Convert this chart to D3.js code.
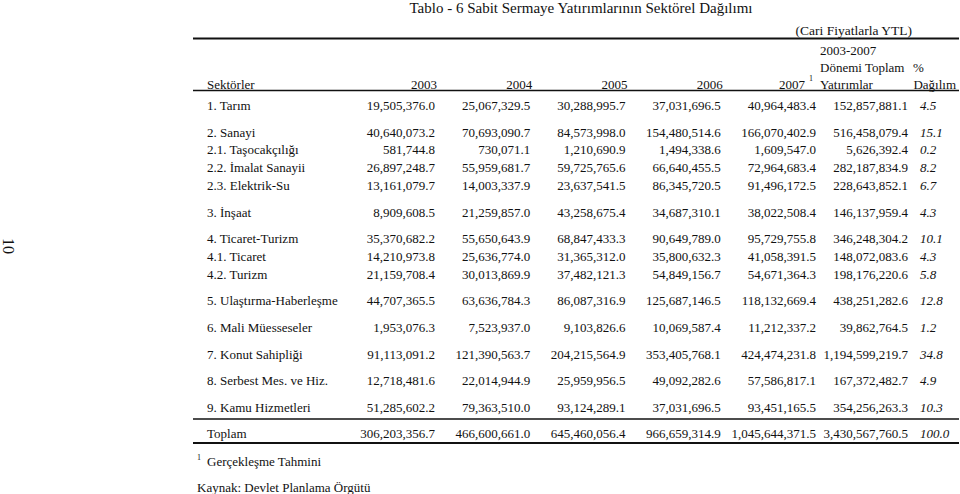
<!DOCTYPE html>
<html>
<head>
<meta charset="utf-8">
<script src="https://cdn.jsdelivr.net/npm/d3@7"></script>
<style>
  body { margin: 0; background: #fff; }
  svg text { font-family: "Liberation Serif", "Times New Roman", serif; fill: #111; }
</style>
</head>
<body>
<svg id="tbl" width="960" height="494"></svg>
<script>
// sektör adları ve grup numaraları (gruplar arası boşluk için)
let sectors = ['1. Tarım', '2. Sanayi', '2.1. Taşocakçılığı', '2.2. İmalat Sanayii', '2.3. Elektrik-Su',
    '3. İnşaat', '4. Ticaret-Turizm', '4.1. Ticaret', '4.2. Turizm', '5. Ulaştırma-Haberleşme',
    '6. Mali Müesseseler', '7. Konut Sahipliği', '8. Serbest Mes. ve Hiz.', '9. Kamu Hizmetleri', 'Toplam'];
let groups = [0, 1, 1, 1, 1, 2, 3, 3, 3, 4, 5, 6, 7, 8, 9];
let years = ['2003', '2004', '2005', '2006', '2007'];

let v2003 = [19505376.0, 40640073.2, 581744.8, 26897248.7, 13161079.7, 8909608.5, 35370682.2, 14210973.8,
    21159708.4, 44707365.5, 1953076.3, 91113091.2, 12718481.6, 51285602.2, 306203356.7];
let v2004 = [25067329.5, 70693090.7, 730071.1, 55959681.7, 14003337.9, 21259857.0, 55650643.9, 25636774.0,
    30013869.9, 63636784.3, 7523937.0, 121390563.7, 22014944.9, 79363510.0, 466600661.0];
let v2005 = [30288995.7, 84573998.0, 1210690.9, 59725765.6, 23637541.5, 43258675.4, 68847433.3, 31365312.0,
    37482121.3, 86087316.9, 9103826.6, 204215564.9, 25959956.5, 93124289.1, 645460056.4];
let v2006 = [37031696.5, 154480514.6, 1494338.6, 66640455.5, 86345720.5, 34687310.1, 90649789.0, 35800632.3,
    54849156.7, 125687146.5, 10069587.4, 353405768.1, 49092282.6, 37031696.5, 966659314.9];
let v2007 = [40964483.4, 166070402.9, 1609547.0, 72964683.4, 91496172.5, 38022508.4, 95729755.8, 41058391.5,
    54671364.3, 118132669.4, 11212337.2, 424474231.8, 57586817.1, 93451165.5, 1045644371.5];
let vTotal = [152857881.1, 516458079.4, 5626392.4, 282187834.9, 228643852.1, 146137959.4, 346248304.2, 148072083.6,
    198176220.6, 438251282.6, 39862764.5, 1194599219.7, 167372482.7, 354256263.3, 3430567760.5];
let vPct = [4.5, 15.1, 0.2, 8.2, 6.7, 4.3, 10.1, 4.3, 5.8, 12.8, 1.2, 34.8, 4.9, 10.3, 100.0];

let yearVals = [v2003, v2004, v2005, v2006, v2007];

let svg = d3.select('#tbl');
let fmt = d3.format(',.1f'), fmtP = d3.format('.1f');
let fs = 13;

// kolonlar
let xYear = d3.scalePoint().domain(years).range([435, 816]);
let xLabel = 207, xTotal = 908, xPct = 920;
// satırlar: sıra + grup boşluğu
let yRow = (i) => 105.5 + i * 17.8 + groups[i] * 8.8;

// başlık
svg.append('text').attr('x', 581).attr('y', 8).attr('dy', '0.35em')
    .attr('text-anchor', 'middle').style('font-size', '15px')
    .text('Tablo - 6  Sabit Sermaye Yatırımlarının Sektörel Dağılımı');
svg.append('text').attr('x', 912).attr('y', 30).attr('dy', '0.35em')
    .attr('text-anchor', 'end').style('font-size', '13.5px').text('(Cari Fiyatlarla YTL)');

// sayfa numarası
svg.append('text').attr('transform', 'translate(3,246) rotate(90)')
    .attr('text-anchor', 'middle').style('font-size', '16px').text('10');

// çizgiler
let rules = [{ y: 38.5, w: 2 }, { y: 90.5, w: 1.6 }, { y: 419, w: 1.4 }, { y: 443, w: 1.8 }];
svg.selectAll('.rule').data(rules).enter()
    .append('line').attr('class', 'rule')
    .attr('x1', 193).attr('x2', 959)
    .attr('y1', d => d.y).attr('y2', d => d.y)
    .attr('stroke', '#111').attr('stroke-width', d => d.w);

// kolon başlıkları
let hy = 84;
svg.append('text').attr('x', xLabel).attr('y', hy).attr('dy', '0.35em').style('font-size', fs + 'px').text('Sektörler');
svg.selectAll('.yh').data(years).enter()
    .append('text').attr('class', 'yh')
    .attr('x', d => d == '2007' ? xYear(d) - 11 : xYear(d) + 2)
    .attr('y', hy).attr('dy', '0.35em')
    .attr('text-anchor', 'end').style('font-size', fs + 'px').text(d => d);
svg.append('text').attr('x', xYear('2007') - 7).attr('y', hy - 6).attr('dy', '0.35em')
    .style('font-size', '8px').text('1');
svg.append('text').attr('x', 820).attr('y', 50).attr('dy', '0.35em').style('font-size', fs + 'px').text('2003-2007');
svg.append('text').attr('x', 820).attr('y', 67).attr('dy', '0.35em').style('font-size', fs + 'px').text('Dönemi Toplam');
svg.append('text').attr('x', 913).attr('y', 67).attr('dy', '0.35em').style('font-size', fs + 'px').text('%');
svg.append('text').attr('x', 820).attr('y', hy).attr('dy', '0.35em').style('font-size', fs + 'px').text('Yatırımlar');
svg.append('text').attr('x', 956).attr('y', hy).attr('dy', '0.35em')
    .attr('text-anchor', 'end').style('font-size', fs + 'px').text('Dağılım');

// satırlar
let rows = svg.selectAll('.row').data(sectors).enter()
    .append('g').attr('class', 'row')
    .attr('transform', (d, i) => `translate(0,${yRow(i)})`);

rows.append('text').attr('x', xLabel).attr('dy', '0.35em').style('font-size', fs + 'px').text(d => d);

years.forEach((yr, k) => {
    rows.append('text').attr('x', xYear(yr)).attr('dy', '0.35em')
        .attr('text-anchor', 'end').style('font-size', fs + 'px')
        .text((d, i) => fmt(yearVals[k][i]));
});
rows.append('text').attr('x', xTotal).attr('dy', '0.35em')
    .attr('text-anchor', 'end').style('font-size', fs + 'px')
    .text((d, i) => fmt(vTotal[i]));
rows.append('text').attr('x', xPct).attr('dy', '0.35em')
    .style('font-size', fs + 'px').style('font-style', 'italic')
    .text((d, i) => fmtP(vPct[i]));

// dipnotlar
svg.append('text').attr('x', 197).attr('y', 457).attr('dy', '0.35em').style('font-size', '8px').text('1');
svg.append('text').attr('x', 207).attr('y', 461).attr('dy', '0.35em').style('font-size', fs + 'px').text('Gerçekleşme Tahmini');
svg.append('text').attr('x', 197).attr('y', 487).attr('dy', '0.35em').style('font-size', fs + 'px').text('Kaynak: Devlet Planlama Örgütü');
</script>
</body>
</html>
